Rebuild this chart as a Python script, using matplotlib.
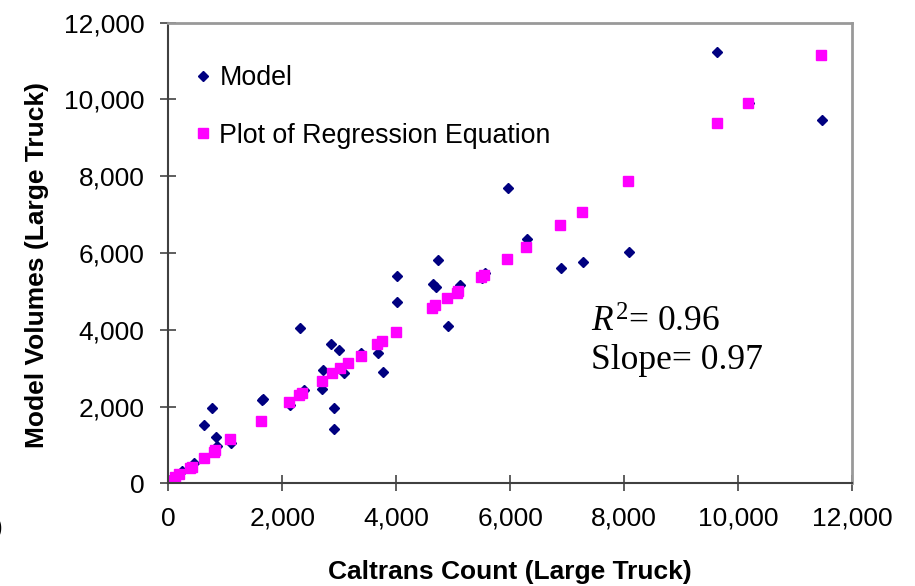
import numpy as np
import matplotlib.pyplot as plt
import matplotlib as mpl

mpl.rcParams['font.family'] = ['Liberation Sans', 'DejaVu Sans']
mpl.rcParams['mathtext.fontset'] = 'custom'
mpl.rcParams['mathtext.rm'] = 'Liberation Serif'
mpl.rcParams['mathtext.it'] = 'Liberation Serif:italic'

# Caltrans count vs model volume (diamonds)
model_x = [11480, 10190, 9640, 8085, 7275, 6895, 6290, 5965, 5565, 5515,
           5125, 4910, 4735, 4700, 4640, 4020, 4020, 3770, 3680, 3390,
           3090, 2990, 2850, 2720, 2700, 2900, 2900, 2310, 2380, 2140,
           1650, 1660, 770, 620, 840, 1100, 855, 445, 240, 30, 5]
model_y = [9460, 9900, 11230, 6030, 5770, 5600, 6370, 7690, 5470, 5340,
           5170, 4090, 5820, 5120, 5190, 5390, 4710, 2890, 3390, 3390,
           2880, 3460, 3640, 2960, 2460, 1960, 1420, 4040, 2440, 2050,
           2160, 2190, 1950, 1530, 1210, 1060, 970, 540, 310, 90, 0]

# regression equation evaluated at the counts (squares)
reg_x = [11460, 10185, 9635, 8075, 7265, 6875, 6280, 5950, 5540, 5485,
         5085, 5060, 4895, 4690, 4630, 4000, 3755, 3665, 3375, 3155,
         3020, 2875, 2700, 2350, 2290, 2115, 1635, 1090, 825, 795,
         620, 415, 385, 180, 125, 5]
reg_y = [11160, 9910, 9385, 7880, 7075, 6730, 6150, 5835, 5430, 5385,
         5000, 4955, 4825, 4650, 4565, 3940, 3715, 3630, 3325, 3135,
         3005, 2875, 2660, 2340, 2295, 2110, 1620, 1145, 865, 815,
         650, 435, 410, 235, 175, 60]

ticks = np.arange(0, 12001, 2000)

fig = plt.figure(figsize=(9.15, 5.86), dpi=100)
ax = fig.add_axes([0.184, 0.1753, 0.747, 0.786])

ax.plot(model_x, model_y, linestyle='none', marker='D', markersize=5.6,
        color='#000080', label='Model')
ax.plot(reg_x, reg_y, linestyle='none', marker='s', markersize=7.4,
        color='#ff00ff', label='Plot of Regression Equation')

ax.set_xlim(0, 12000)
ax.set_ylim(0, 12000)
ax.set_xticks(ticks)
ax.set_yticks(ticks)
ax.set_xticklabels([f'{t:,}' for t in ticks])
ax.set_yticklabels([f'{t:,}' for t in ticks])
ax.tick_params(direction='inout', length=12, width=1.1, color='#333333',
               labelsize=19, pad=11)

for s in ['left', 'bottom']:
    ax.spines[s].set_color('#404040')
    ax.spines[s].set_linewidth(1.5)
for s in ['top', 'right']:
    ax.spines[s].set_color('#999999')
    ax.spines[s].set_linewidth(2)

ax.set_xlabel('Caltrans Count (Large Truck)', fontsize=19, fontweight='bold', va='center')
ax.xaxis.set_label_coords(0.5, -0.193)
ax.set_ylabel('Model Volumes (Large Truck)', fontsize=19, fontweight='bold', va='center')
ax.yaxis.set_label_coords(-0.192, 0.474)

ax.legend(loc='upper left', bbox_to_anchor=(0.04, 0.908), frameon=False,
          fontsize=19.3, handlelength=0.56, handletextpad=0.32, labelspacing=1.18,
          borderpad=0, borderaxespad=0)

ax.text(7419, 3942, r'$R^{2}$= 0.96', fontsize=25.5, family='Liberation Serif', va='baseline')
ax.text(7419, 2978, 'Slope= 0.97', fontsize=25.5, family='Liberation Serif', va='baseline')

fig.text(3 / 915, 1 - 528 / 586, ')', fontsize=19, ha='right', va='center')

fig.savefig('out.png', dpi=100)
